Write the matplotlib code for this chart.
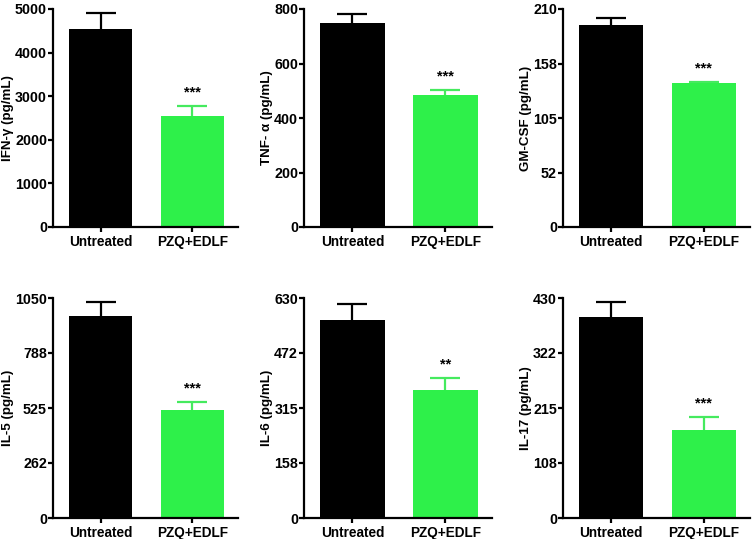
import matplotlib
matplotlib.use("Agg")
import matplotlib.pyplot as plt

plt.rcParams['font.family'] = ['Liberation Sans', 'DejaVu Sans']
plt.rcParams['font.weight'] = 'bold'

groups = ["Untreated", "PZQ+EDLF"]
colors = ["#000000", "#2EF04A"]
err_colors = ["#000000", "#45EA5E"]

ylabels = ["IFN-\u03b3 (pg/mL)", "TNF- \u03b1 (pg/mL)", "GM-CSF (pg/mL)",
           "IL-5 (pg/mL)", "IL-6 (pg/mL)", "IL-17 (pg/mL)"]
means = [[4530, 2546], [750, 484], [194.7, 138.5],
         [963, 515], [567, 366], [392, 172]]
errs = [[385, 230], [30, 17], [6.4, 1.3],
        [67, 40], [46, 35], [30, 26]]
ymaxes = [5000, 800, 210, 1050, 630, 430]
yticklabels = [["0", "1000", "2000", "3000", "4000", "5000"],
               ["0", "200", "400", "600", "800"],
               ["0", "52", "105", "158", "210"],
               ["0", "262", "525", "788", "1050"],
               ["0", "158", "315", "472", "630"],
               ["0", "108", "215", "322", "430"]]
stars = ["***", "***", "***", "***", "**", "***"]

W, H = 753, 539
fig = plt.figure(figsize=(W / 100, H / 100), dpi=100)

# axes boxes in pixels: (left, right, top, bottom)
cols = [(53, 238), (304, 492), (563, 750)]
rows = [(9, 227), (298, 518)]

for i in range(6):
    r, c = divmod(i, 3)
    l, rr = cols[c]
    t, b = rows[r]
    ax = fig.add_axes([l / W, 1 - b / H, (rr - l) / W, (b - t) / H])
    x = [0, 1]
    for j in range(2):
        ax.bar(x[j], means[i][j], width=0.69, color=colors[j], edgecolor='none', zorder=2)
        eb = ax.errorbar(x[j], means[i][j], yerr=[[0], [errs[i][j]]], fmt='none',
                         ecolor=err_colors[j], elinewidth=1.6, capsize=11,
                         capthick=1.6, zorder=1)
        caps = eb[1]
        if len(caps) == 2:
            caps[0].set_visible(False)
    top = means[i][1] + errs[i][1]
    ax.text(1, top + ymaxes[i] * 0.03, stars[i], ha='center', va='bottom',
            fontsize=10.5, fontweight='bold')
    ax.set_xlim(-0.52, 1.5)
    ax.set_ylim(0, ymaxes[i])
    n = len(yticklabels[i])
    ax.set_yticks([ymaxes[i] * k / (n - 1) for k in range(n)])
    ax.set_yticklabels(yticklabels[i])
    ax.set_xticks(x)
    ax.set_xticklabels(groups, fontsize=9.8)
    ax.set_ylabel(ylabels[i], fontsize=9.6, fontweight='bold', labelpad=0.5)
    for s in ['top', 'right']:
        ax.spines[s].set_visible(False)
    for s in ['left', 'bottom']:
        ax.spines[s].set_linewidth(1.6)
    ax.tick_params(axis='both', width=1.6, length=3.5)
    ax.tick_params(axis='x', pad=2)
    ax.tick_params(axis='y', labelsize=10.3, pad=0.8)
    for lab in ax.get_xticklabels() + ax.get_yticklabels():
        lab.set_fontweight('bold')

fig.savefig("out.png", dpi=100)
